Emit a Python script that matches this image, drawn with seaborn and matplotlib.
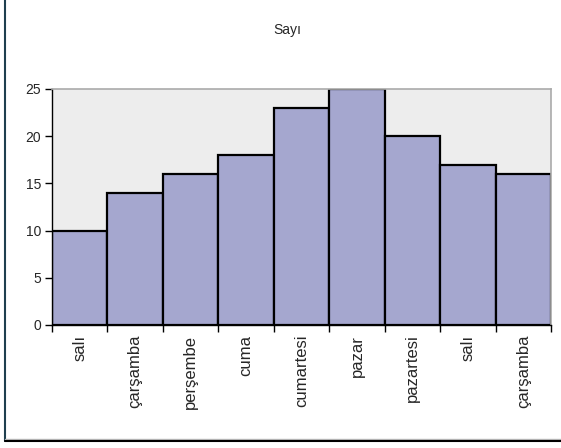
import matplotlib
matplotlib.use("Agg")
import matplotlib.pyplot as plt
from matplotlib.lines import Line2D
from matplotlib.ticker import FixedLocator
import seaborn as sns
import pandas as pd
import numpy as np

# Daily counts
days = ["salı", "çarşamba", "perşembe", "cuma", "cumartesi",
        "pazar", "pazartesi", "salı", "çarşamba"]
counts = [10, 14, 16, 18, 23, 25, 20, 17, 16]
y_ticks = [0, 5, 10, 15, 20, 25]

sns.set_theme(style="white")
plt.rcParams["font.family"] = ["Liberation Sans", "DejaVu Sans"]

W, H = 561, 448
fig = plt.figure(figsize=(W / 100, H / 100), dpi=100)
ax = fig.add_axes([52 / W, (H - 325) / H, (551 - 52) / W, (325 - 89) / H])

df = pd.DataFrame({"pos": np.arange(len(days)), "count": counts})
sns.barplot(data=df, x="pos", y="count", ax=ax, width=1.0,
            color="#A5A7CF", saturation=1, edgecolor="black", linewidth=1.6)

ax.set_facecolor("#EDEDED")
ax.set_xlim(-0.5, len(days) - 0.5)
ax.set_ylim(0, 25)
ax.set_yticks(y_ticks)
ax.set_yticklabels([str(v) for v in y_ticks], fontsize=10)
ax.set_xticks(np.arange(len(days)))
ax.set_xticklabels(days, rotation=90, fontsize=12)
ax.tick_params(axis="x", which="major", length=0, pad=7)
ax.xaxis.set_minor_locator(FixedLocator(np.arange(len(days) + 1) - 0.5))
ax.tick_params(axis="x", which="minor", bottom=True, length=5, width=1, color="black")
ax.tick_params(axis="y", left=True, length=5, width=1, color="black", pad=3)
ax.set_xlabel("")
ax.set_ylabel("")

for side in ("top", "right"):
    ax.spines[side].set_color("#AAAAAA")
    ax.spines[side].set_linewidth(1.2)
for side in ("left", "bottom"):
    ax.spines[side].set_color("black")
    ax.spines[side].set_linewidth(1.0)

fig.text(287 / W, 1 - 30 / H, "Sayı", ha="center", va="center", fontsize=10)

# Outer frame: left and bottom edges
fig.add_artist(Line2D([4.5 / W, 4.5 / W], [1, (H - 441) / H],
                      transform=fig.transFigure, color="#1F3F4F", lw=1.5))
fig.add_artist(Line2D([4.5 / W, 1], [(H - 439) / H, (H - 439) / H],
                      transform=fig.transFigure, color="#BBBBBB", lw=1.0))
fig.add_artist(Line2D([4.5 / W, 1], [(H - 441) / H, (H - 441) / H],
                      transform=fig.transFigure, color="black", lw=1.5))

fig.savefig("out.png", dpi=100)
